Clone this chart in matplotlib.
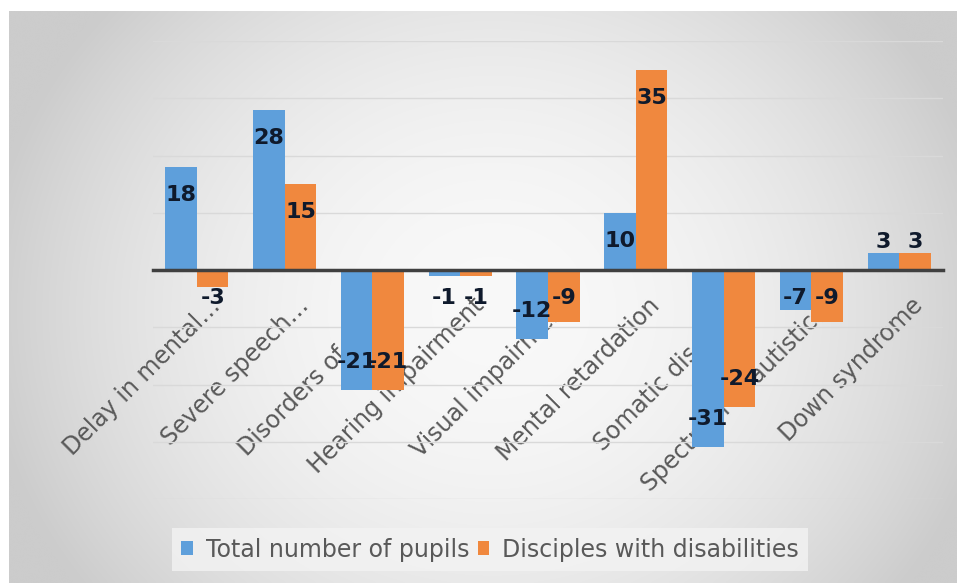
import numpy as np
import matplotlib
matplotlib.use("Agg")
import matplotlib.pyplot as plt
from matplotlib.transforms import ScaledTranslation

categories = ["Delay in mental\u2026", "Severe speech\u2026", "Disorders of the\u2026",
              "Hearing impairment", "Visual impairment", "Mental retardation",
              "Somatic diseases", "Spectrum of autistic\u2026", "Down syndrome"]
total_pupils = [18, 28, -21, -1, -12, 10, -31, -7, 3]
disabled_pupils = [-3, 15, -21, -1, -9, 35, -24, -9, 3]
series_names = ["Total number of pupils", "Disciples with disabilities"]

BLUE = "#5E9FDB"
ORANGE = "#F0883E"

fig = plt.figure(figsize=(9.59, 5.85), dpi=100)
fig.patch.set_facecolor("white")

# gradient background frame
bg = fig.add_axes([9/959, 2/585, 948/959, 572/585], zorder=0)
ny, nx = 300, 500
yy, xx = np.mgrid[-1:1:ny*1j, -1:1:nx*1j]
xx = xx - 0.02
yy = yy - 0.05
r2 = xx**2 + (yy/1.5)**2
val = np.clip(0.975 - 0.15*r2, 0.8, 1)
img = np.dstack([val, val, val])
bg.imshow(img, aspect="auto", extent=[0, 1, 0, 1], interpolation="bicubic")
bg.set_axis_off()

ax = fig.add_axes([153/959, 86/585, 790/959, 458/585], zorder=1)
ax.patch.set_alpha(0)

x = np.arange(len(categories))
w = 0.36
b1 = ax.bar(x - w/2, total_pupils, w, color=BLUE, label=series_names[0], zorder=2)
b2 = ax.bar(x + w/2, disabled_pupils, w, color=ORANGE, label=series_names[1], zorder=2)

ax.set_xlim(-0.5, len(categories) - 0.5)
ax.set_ylim(-40, 40)
ax.set_yticks(np.arange(-40, 41, 10))
ax.tick_params(axis="y", left=False, labelleft=False)
ax.yaxis.grid(True, color="#d9d9d9", lw=1)
ax.set_axisbelow(True)
for s in ["top", "right", "left"]:
    ax.spines[s].set_visible(False)
ax.spines["bottom"].set_position(("data", 0))
ax.spines["bottom"].set_color("#404040")
ax.spines["bottom"].set_linewidth(2.5)
ax.spines["bottom"].set_zorder(3)

ax.set_xticks(x)
ax.set_xticklabels(categories, rotation=45, ha="right", va="center",
                   rotation_mode="anchor", fontsize=17, color="#595959")
ax.tick_params(axis="x", length=0, pad=23)
off = ScaledTranslation(0.20, 0, fig.dpi_scale_trans)
for lab in ax.get_xticklabels():
    lab.set_transform(lab.get_transform() + off)

inset = 4.9
for bars, vals in ((b1, total_pupils), (b2, disabled_pupils)):
    for rect, v in zip(bars, vals):
        pos = np.sign(v) * max(abs(v) - inset, inset)
        ax.text(rect.get_x() + rect.get_width()/2, pos, str(v), ha="center", va="center",
                fontsize=16, fontweight="bold", color="#0f1a2c", zorder=4)

leg = fig.legend(handles=[b1, b2], labels=series_names, loc="center",
                 bbox_to_anchor=(490/959, 1 - 549.5/585), ncol=2, fontsize=17,
                 handlelength=0.5, handleheight=0.5, handletextpad=0.55,
                 columnspacing=0.35, borderpad=0.4, frameon=True, fancybox=False,
                 facecolor="#f3f3f3", edgecolor="none", framealpha=0.8)
for t in leg.get_texts():
    t.set_color("#595959")

fig.savefig("out.png", dpi=100)
